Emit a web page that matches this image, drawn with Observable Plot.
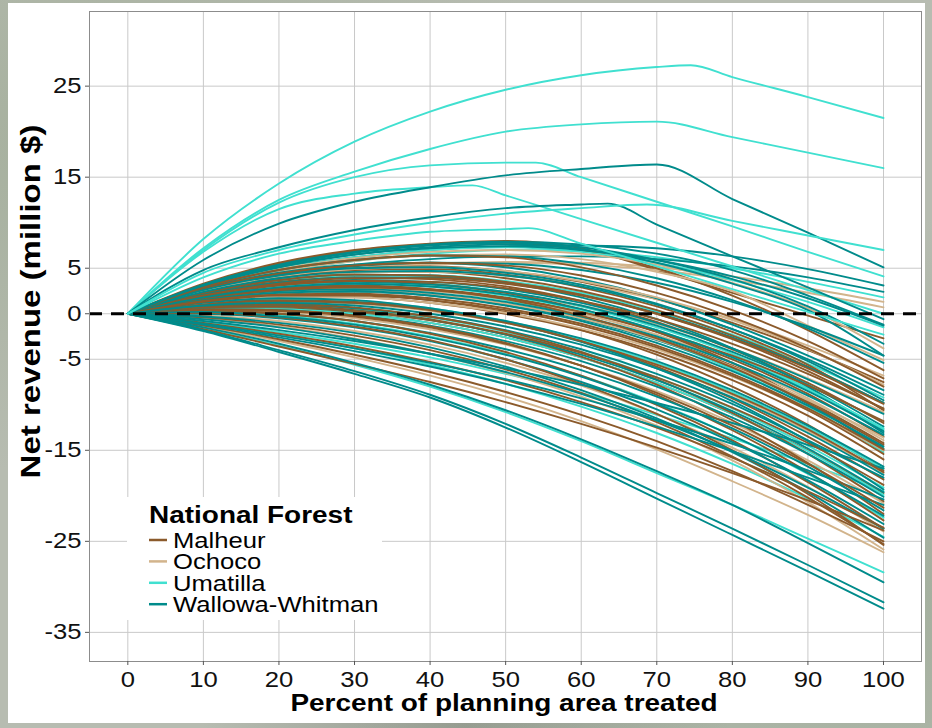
<!DOCTYPE html>
<html>
<head>
<meta charset="utf-8">
<script src="https://cdn.jsdelivr.net/npm/d3@7"></script>
<script src="https://cdn.jsdelivr.net/npm/@observablehq/plot@0.6"></script>
<style>
  html, body { margin: 0; padding: 0; }
  body {
    width: 932px; height: 728px; overflow: hidden; position: relative;
    font-family: "Liberation Sans", Arial, sans-serif;
    background:
      radial-gradient(ellipse at 10% 20%, rgba(150,165,140,0.55), rgba(0,0,0,0) 40%),
      radial-gradient(ellipse at 90% 80%, rgba(140,160,135,0.5), rgba(0,0,0,0) 45%),
      radial-gradient(ellipse at 50% 100%, rgba(120,125,115,0.5), rgba(0,0,0,0) 40%),
      #b7bcb1;
  }
  #panel { position: absolute; left: 8px; top: 3px; width: 917px; height: 720px; background: #fff; }
  #legend { position: absolute; left: 119px; top: 494px; width: 255px; height: 123px; background: #fff; }
</style>
</head>
<body>
<div id="panel"><div id="chart"></div><div id="legend"></div></div>
<script>
// ---- data ----
const pct = [0, 10, 20, 30, 40, 50, 60, 70, 80, 90, 100];
const forests = ["Malheur", "Ochoco", "Umatilla", "Wallowa-Whitman"];
const forestColors = ["#8B5A2B", "#D2B48C", "#40E0D0", "#008B8B"];
const yTicks = [25, 15, 5, 0, -5, -15, -25, -35];
const xTicks = [0, 10, 20, 30, 40, 50, 60, 70, 80, 90, 100];

const malheur = [
  [0,3.3,5.6,7.0,7.7,8.0,7.2,4.8,2.3,-0.2,-2.7],
  [0,3.2,5.5,6.9,7.6,7.8,7.0,5.0,2.0,-1.8,-6.2],
  [0,2.6,4.2,5.0,5.2,4.7,3.5,1.6,-1.0,-4.0,-7.5],
  [0,2.4,3.9,4.6,4.6,3.9,2.5,0.4,-2.4,-5.8,-9.8],
  [0,2.5,4.0,4.8,4.9,4.3,2.9,0.8,-2.0,-5.6,-10.6],
  [0,2.2,3.5,4.0,3.8,3.0,1.4,-0.9,-3.9,-7.6,-12.0],
  [0,1.7,2.7,3.0,2.7,1.8,0.2,-2.0,-5.0,-8.8,-13.5],
  [0,1.5,2.3,2.5,2.1,1.1,-0.5,-2.7,-5.7,-9.6,-14.2],
  [0,2.0,3.2,3.6,3.3,2.3,0.5,-2.0,-5.4,-9.8,-15.0],
  [0,1.2,1.8,1.8,1.2,0.0,-1.8,-4.2,-7.3,-11.2,-16.0],
  [0,1.4,2.1,2.1,1.5,0.2,-1.8,-4.5,-8.0,-12.2,-17.2],
  [0,1.1,1.5,1.3,0.5,-0.9,-3.0,-5.8,-9.3,-13.5,-18.2],
  [0,0.6,0.6,0.1,-1.0,-2.6,-4.8,-7.6,-11.0,-15.0,-19.7],
  [0,0.9,1.1,0.7,-0.3,-1.9,-4.2,-7.2,-10.9,-15.4,-20.6],
  [0,0.8,0.9,0.4,-0.6,-2.3,-4.7,-7.8,-11.7,-16.4,-22.0],
  [0,0.5,0.4,-0.2,-1.4,-3.2,-5.7,-8.9,-12.8,-17.4,-22.7],
  [0,0.3,0.0,-0.8,-2.2,-4.2,-6.8,-10.0,-13.9,-18.5,-23.6],
  [0,-0.4,-1.2,-2.4,-4.0,-6.1,-8.7,-11.9,-15.7,-20.2,-25.3],
  [0,0.1,-0.4,-1.4,-2.9,-5.0,-7.7,-11.0,-15.0,-19.8,-25.4],
  [0,-1.0,-2.2,-3.6,-5.3,-7.3,-9.7,-12.5,-15.8,-19.5,-23.5],
  [0,-1.3,-2.8,-4.5,-6.4,-8.6,-11.1,-14.0,-17.3,-21.0,-25.0],
  [0,-1.7,-3.6,-5.5,-7.5,-9.7,-12.1,-14.7,-17.5,-20.5,-23.8],
  [0,1.9,3.1,3.6,3.5,2.8,1.4,-0.6,-3.3,-6.6,-10.4],
  [0,1.3,2.0,2.0,1.5,0.4,-1.3,-3.7,-6.8,-10.6,-15.4],
  [0,1.0,1.4,1.2,0.4,-1.0,-3.0,-5.6,-8.8,-12.7,-17.4],
  [0,2.7,4.4,5.3,5.6,5.3,4.2,2.3,-0.4,-3.8,-8.0],
  [0,0.4,0.3,-0.3,-1.5,-3.3,-5.7,-8.7,-12.3,-16.5,-21.3],
  [0,2.3,3.7,4.3,4.2,3.5,2.1,0.0,-2.8,-6.3,-10.5],
  [0,2.0,3.3,3.9,3.9,3.3,2.0,0.0,-2.7,-6.0,-9.9],
  [0,1.6,2.6,2.9,2.6,1.7,0.2,-1.9,-4.6,-7.9,-11.8],
  [0,1.8,2.8,3.1,2.7,1.6,-0.2,-2.7,-5.9,-9.8,-14.4],
  [0,0.7,0.8,0.3,-0.7,-2.2,-4.3,-7.0,-10.3,-14.2,-18.8],
  [0,2.9,4.8,5.9,6.4,6.2,5.1,3.1,0.4,-3.0,-7.1],
  [0,1.4,2.1,2.2,1.7,0.6,-1.1,-3.5,-6.6,-10.4,-14.9]
];

const ochoco = [
  [0,2.4,4.0,5.0,5.5,5.7,5.6,5.1,4.1,2.8,1.3],
  [0,2.2,3.8,4.8,5.4,5.6,5.4,4.8,3.7,2.3,0.7],
  [0,2.9,4.9,6.1,6.8,7.0,6.6,5.4,3.4,0.6,-3.8],
  [0,2.7,4.6,5.8,6.4,6.5,6.0,4.6,2.5,-1.3,-5.1],
  [0,2.3,3.8,4.5,4.6,4.2,3.2,1.6,-0.6,-3.5,-6.8],
  [0,1.8,2.9,3.3,3.1,2.3,0.9,-1.1,-3.8,-7.1,-10.8],
  [0,1.6,2.5,2.8,2.5,1.6,0.0,-2.3,-5.4,-9.3,-13.9],
  [0,0.9,1.3,1.1,0.3,-1.0,-3.0,-5.6,-8.9,-12.9,-17.5],
  [0,0.4,0.2,-0.5,-1.7,-3.4,-5.7,-8.5,-12.0,-16.1,-20.8],
  [0,-0.2,-0.8,-1.9,-3.4,-5.4,-7.9,-11.0,-14.7,-19.0,-23.9],
  [0,-0.5,-1.4,-2.7,-4.4,-6.5,-9.1,-12.3,-16.1,-20.7,-25.9],
  [0,-1.4,-3.0,-4.8,-6.8,-9.1,-11.8,-14.9,-18.4,-22.1,-26.2],
  [0,1.5,2.3,2.5,2.1,1.1,-0.5,-2.8,-5.8,-9.5,-13.6],
  [0,1.2,1.8,1.8,1.2,0.1,-1.6,-3.9,-6.9,-10.6,-15.0],
  [0,2.5,4.1,4.9,5.1,4.7,3.6,1.8,-0.7,-3.9,-7.8]
];

const umatilla = [
  [0,2.8,4.6,5.8,6.6,7.0,6.9,6.2,5.0,3.5,1.8],
  [0,2.9,4.9,6.2,7.0,7.3,6.8,5.6,3.7,1.3,-1.5],
  [0,2.2,3.6,4.2,4.2,3.6,2.3,0.3,-2.3,-5.5,-9.2],
  [0,2.0,3.2,3.6,3.3,2.4,0.8,-1.5,-4.4,-8.2,-12.7],
  [0,1.7,2.7,3.0,2.6,1.5,-0.3,-2.8,-6.1,-10.2,-15.2],
  [0,0.7,0.9,0.5,-0.4,-2.0,-4.2,-7.0,-10.4,-14.5,-19.1],
  [0,0.2,-0.2,-1.1,-2.5,-4.4,-6.8,-9.8,-13.4,-17.6,-22.4],
  [0,-0.9,-2.0,-3.3,-4.8,-6.6,-8.7,-11.1,-13.7,-16.5,-19.5],
  [0,-1.0,-2.3,-3.8,-5.6,-7.7,-10.2,-13.1,-16.5,-20.3,-24.5],
  [0,-1.6,-3.5,-5.6,-8.0,-10.8,-14.0,-17.5,-21.0,-24.7,-28.4],
  [0,1.1,1.6,1.4,0.6,-0.8,-2.8,-5.4,-8.6,-12.5,-17.0],
  [0,1.9,3.0,3.3,3.0,2.0,0.4,-1.8,-4.7,-8.3,-12.6],
  [0,0.5,0.5,0.0,-1.0,-2.6,-4.8,-7.6,-11.0,-15.1,-19.9]
];

const wallowa = [
  [0,3.0,5.0,6.2,7.0,7.4,7.5,7.2,6.3,4.9,3.1],
  [0,2.6,4.3,5.4,6.0,6.3,6.3,6.0,5.2,4.0,2.4],
  [0,3.2,5.4,6.8,7.6,7.9,7.6,6.6,4.8,2.0,-1.2],
  [0,3.1,5.3,6.7,7.5,7.8,7.3,5.9,3.8,0.8,-3.3],
  [0,3.0,5.1,6.5,7.3,7.6,7.1,5.6,3.3,0.4,-4.6],
  [0,2.5,4.2,5.2,5.6,5.5,4.8,3.4,1.3,-1.4,-4.6],
  [0,2.8,4.5,5.4,5.6,5.1,3.8,1.7,-1.2,-4.6,-8.4],
  [0,2.0,3.2,3.7,3.5,2.7,1.2,-1.0,-3.8,-7.2,-11.0],
  [0,1.9,3.0,3.4,3.2,2.4,0.9,-1.3,-4.2,-7.8,-12.4],
  [0,2.3,3.7,4.3,4.2,3.4,1.8,-0.6,-3.8,-8.0,-13.1],
  [0,1.4,2.2,2.4,2.0,1.0,-0.6,-2.9,-5.9,-9.9,-14.8],
  [0,1.0,1.4,1.2,0.5,-0.8,-2.7,-5.2,-8.4,-12.3,-16.8],
  [0,0.8,1.0,0.6,-0.3,-1.8,-3.9,-6.6,-9.9,-13.9,-18.0],
  [0,1.2,1.7,1.5,0.6,-0.9,-3.1,-6.0,-9.6,-14.0,-19.3],
  [0,0.5,0.4,-0.2,-1.3,-3.0,-5.2,-8.0,-11.4,-15.4,-20.1],
  [0,0.3,0.0,-0.8,-2.1,-3.9,-6.2,-9.1,-12.6,-16.8,-21.6],
  [0,0.0,-0.5,-1.5,-3.0,-5.0,-7.5,-10.5,-14.1,-18.3,-23.1],
  [0,-0.3,-1.0,-2.1,-3.7,-5.8,-8.4,-11.5,-15.2,-19.6,-24.6],
  [0,-0.6,-1.5,-2.8,-4.4,-6.4,-8.8,-11.7,-15.1,-19.1,-23.6],
  [0,-0.8,-1.8,-3.0,-4.4,-6.0,-7.8,-9.8,-12.0,-14.4,-17.0],
  [0,-1.1,-2.4,-3.8,-5.4,-7.2,-9.3,-11.7,-14.3,-17.2,-20.4],
  [0,-1.2,-2.6,-4.1,-5.8,-7.7,-9.9,-12.4,-15.1,-18.0,-21.0],
  [0,-1.5,-3.3,-5.4,-7.8,-10.6,-13.8,-17.3,-21.0,-25.2,-29.5],
  [0,-1.8,-4.0,-6.3,-8.9,-12.1,-15.8,-19.7,-23.6,-27.6,-31.7],
  [0,-1.9,-4.2,-6.6,-9.2,-12.5,-16.3,-20.3,-24.3,-28.3,-32.4],
  [0,2.1,3.4,4.0,4.0,3.4,2.1,0.1,-2.6,-5.9,-9.8],
  [0,1.6,2.5,2.7,2.3,1.3,-0.3,-2.5,-5.4,-9.0,-13.3],
  [0,2.4,3.9,4.6,4.7,4.2,3.0,1.0,-1.7,-5.0,-8.9],
  [0,0.7,0.8,0.3,-0.7,-2.3,-4.5,-7.3,-10.7,-14.8,-19.6],
  [0,2.9,4.8,5.9,6.4,6.3,5.5,3.9,1.5,-1.6,-5.4],
  [0,1.8,2.9,3.3,3.0,2.1,0.5,-1.8,-4.8,-8.5,-12.9],
  [0,2.6,4.2,5.0,5.1,4.5,3.2,1.1,-1.7,-5.2,-9.5],
  [0,1.5,2.3,2.5,2.0,0.9,-0.8,-3.2,-6.3,-10.1,-14.6],
  [0,0.9,1.2,0.9,0.0,-1.4,-3.4,-6.0,-9.2,-13.1,-17.7],
  [0,3.1,5.2,6.5,7.2,7.4,7.0,5.9,4.1,1.7,-1.3],
  [0,0.2,-0.3,-1.2,-2.6,-4.5,-6.9,-9.9,-13.4,-17.5,-22.2]
];

// high lines with a visible break point (own x positions)
const peakForest = ["Umatilla", "Umatilla", "Umatilla", "Umatilla", "Wallowa-Whitman", "Wallowa-Whitman", "Umatilla", "Umatilla"];
const peakX = [
  [0,10,20,30,40,50,60,70,74.5,80,90,100],
  [0,10,20,30,40,50,60,70,80,90,100],
  [0,10,20,30,40,50,54,60,70,80,90,100],
  [0,10,20,30,40,45.6,50,60,70,80,90,100],
  [0,10,20,30,40,50,60,70,80,90,100],
  [0,10,20,30,40,50,60,63.5,70,80,90,100],
  [0,10,20,30,40,50,60,68.7,80,90,100],
  [0,10,20,30,40,50,53,60,70,80,90,100]
];
const peakY = [
  [0,8.2,14.3,18.9,22.2,24.6,26.2,27.1,27.3,26.0,23.8,21.5],
  [0,7.2,12.5,15.6,18.1,20.0,20.8,21.1,19.4,17.7,16.0],
  [0,7.0,12.2,15.0,16.3,16.6,16.6,15.0,12.3,9.6,6.8,4.1],
  [0,6.8,11.5,13.2,13.9,14.1,13.0,10.4,7.8,5.2,2.6,0.0],
  [0,5.9,9.9,12.3,13.9,15.2,15.9,16.4,12.6,8.9,5.1],
  [0,4.8,7.3,9.2,10.6,11.6,12.0,12.1,9.8,6.3,2.9,-0.6],
  [0,4.5,7.0,8.7,10.0,11.0,11.6,12.0,10.2,8.6,7.0],
  [0,4.0,6.6,8.0,9.0,9.3,9.4,7.7,5.2,2.7,0.2,-2.3]
];

// ---- build table ----
const groups = {"Malheur": malheur, "Ochoco": ochoco, "Umatilla": umatilla, "Wallowa-Whitman": wallowa};
const order = ["Ochoco", "Malheur", "Umatilla", "Wallowa-Whitman"];
const series = [];
const maxLen = d3.max(order, f => groups[f].length);
for (let i = 0; i < maxLen; i++) {
  for (const f of order) {
    if (groups[f][i]) series.push({forest: f, xs: pct, ys: groups[f][i]});
  }
}
peakX.forEach((xs, i) => series.push({forest: peakForest[i], xs, ys: peakY[i]}));
const rows = series.flatMap((s, k) => s.xs.map((x, j) => ({id: k, forest: s.forest, x, y: s.ys[j]})));

const SX = 1.165; // horizontal stretch of the reference lettering
const W = 917, H = 720;
const chart = Plot.plot({
  width: W, height: H,
  marginLeft: 81, marginTop: 8, marginRight: 4, marginBottom: 62,
  style: {fontFamily: "'Liberation Sans', Arial, sans-serif", background: "transparent", overflow: "visible"},
  x: {domain: [-5.07, 105.03]},
  y: {domain: [-38.2, 33.2]},
  color: {domain: forests, range: forestColors},
  marks: [
    Plot.gridX(xTicks, {stroke: "#c9c9c9", strokeOpacity: 1, strokeWidth: 1}),
    Plot.gridY(yTicks, {stroke: "#c9c9c9", strokeOpacity: 1, strokeWidth: 1}),
    Plot.line(rows, {x: "x", y: "y", z: "id", stroke: "forest", strokeWidth: 1.9, curve: "monotone-x"}),
    Plot.ruleY([0], {stroke: "#000", strokeWidth: 3, strokeDasharray: "13,9"}),
    Plot.frame({stroke: "#8c8c8c", strokeWidth: 1}),
    Plot.axisY(yTicks, {tickSize: 4, tickPadding: 4, fontSize: 22, stroke: "#555", fill: "#111", label: null, tickFormat: d => String(d)}),
    Plot.axisX(xTicks, {tickSize: 4, tickPadding: 6, fontSize: 22, stroke: "#555", fill: "#111", label: null, tickFormat: d => String(d)})
  ]
});
document.getElementById("chart").appendChild(chart);

const svg = d3.select(chart);
// stretch tick labels horizontally like the reference lettering (keep em offsets)
svg.selectAll('g[aria-label$="tick label"] text').each(function () {
  const t = this;
  const tr = t.getAttribute("transform") || "";
  const xa = t.getAttribute("x");
  let x = 0;
  if (xa && !/em/.test(xa)) { x = parseFloat(xa) || 0; t.removeAttribute("x"); }
  t.setAttribute("transform", `${tr} translate(${x},0) scale(${SX},1)`);
});

svg.append("text")
  .attr("transform", `translate(496,708) scale(${SX},1)`)
  .attr("text-anchor", "middle")
  .attr("font-size", 24).attr("font-weight", "bold").attr("fill", "#000")
  .text("Percent of planning area treated");
svg.append("text")
  .attr("transform", `translate(32,298.5) rotate(-90) scale(1.375,${SX})`)
  .attr("text-anchor", "middle")
  .attr("font-size", 24).attr("font-weight", "bold").attr("fill", "#000")
  .text("Net revenue (million $)");

// legend
const leg = d3.select("#legend").append("svg").attr("width", 255).attr("height", 123)
  .style("font-family", "'Liberation Sans', Arial, sans-serif");
leg.append("text").attr("transform", `translate(22,26) scale(${SX},1)`)
  .attr("font-size", 24).attr("font-weight", "bold").attr("fill", "#000")
  .text("National Forest");
forests.forEach((f, i) => {
  const cy = 43 + i * 21.4;
  leg.append("line").attr("x1", 22).attr("x2", 40).attr("y1", cy).attr("y2", cy)
    .attr("stroke", forestColors[i]).attr("stroke-width", 2.5);
  leg.append("text").attr("transform", `translate(46,${cy + 8}) scale(${SX},1)`)
    .attr("font-size", 22).attr("fill", "#000").text(f);
});
</script>
</body>
</html>
